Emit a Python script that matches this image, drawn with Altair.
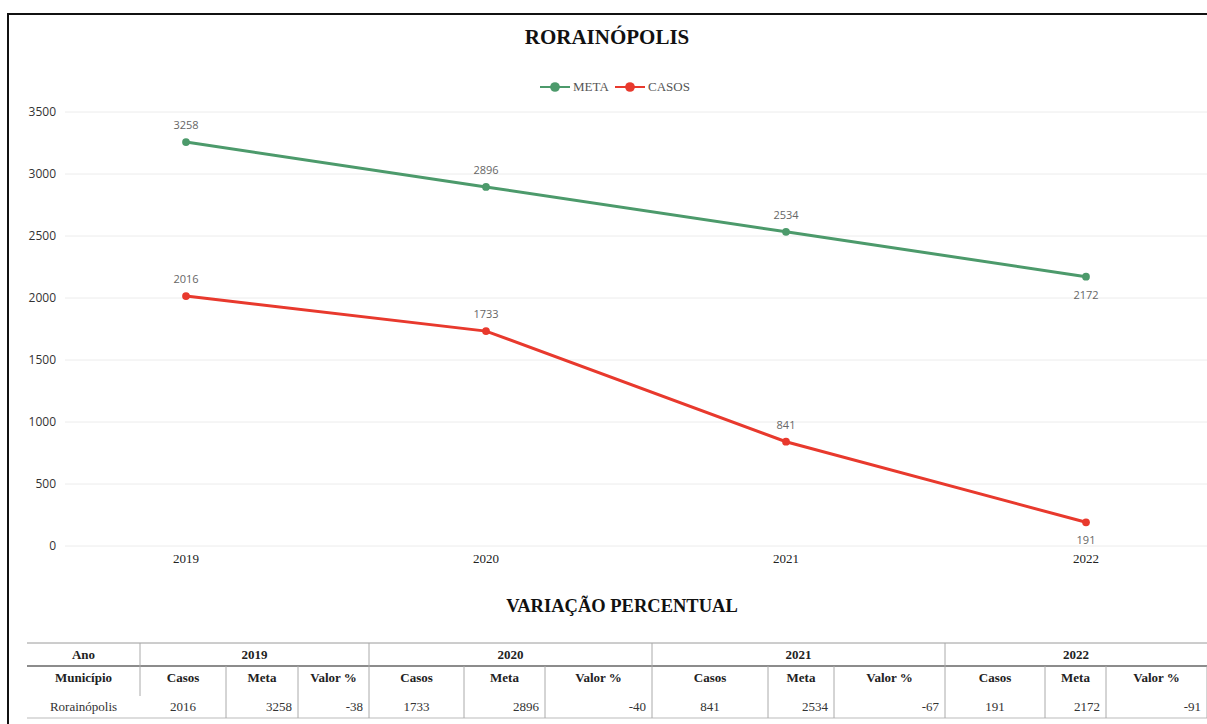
import altair as alt
import pandas as pd

# Casos x meta por ano no município
anos = [2019, 2020, 2021, 2022]
meta = [3258, 2896, 2534, 2172]
casos = [2016, 1733, 841, 191]
variacao_pct = [-38, -40, -67, -91]
municipio = "Rorainópolis"
series = ["META", "CASOS"]
cores = ["#4c9a6b", "#e8392d"]
subcabecalhos = ["Casos", "Meta", "Valor %"]
ticks_y = [0, 500, 1000, 1500, 2000, 2500, 3000, 3500]

# ---- layout (coordenadas de página) ----
OX, OY = 65, 112            # origem da área do gráfico
W, H = 1142, 608            # área do gráfico
Y_ZERO, Y_TOPO = 546, 112   # posições de 0 e do topo da escala
X_PRIMEIRO, PASSO = 186, 300

def px(x):
    return x - OX

def py(y):
    return y - OY

y_max = ticks_y[-1]
y_min = -y_max * (OY + H - Y_ZERO) / (Y_ZERO - Y_TOPO)
x_min = anos[0] - (X_PRIMEIRO - OX) / PASSO
x_max = anos[0] + (OX + W - X_PRIMEIRO) / PASSO

SERIF = "Liberation Serif"
SANS = "Open Sans"

# ---- dados do gráfico de linhas ----
linhas = pd.DataFrame(
    [{"ano": a, "serie": "META", "valor": v} for a, v in zip(anos, meta)]
    + [{"ano": a, "serie": "CASOS", "valor": v} for a, v in zip(anos, casos)]
)

xs = alt.Scale(domain=[x_min, x_max], nice=False, zero=False)
ys = alt.Scale(domain=[y_min, y_max], nice=False, zero=False)
cs = alt.Scale(domain=series, range=cores)

# grade e rótulos do eixo y
grade_df = pd.DataFrame({"v": ticks_y})
grade = alt.Chart(grade_df).mark_rule(stroke="#ececec", strokeWidth=1).encode(
    x=alt.value(0), x2=alt.value(W),
    y=alt.Y("v:Q", scale=ys, axis=None),
)
rot_y = alt.Chart(grade_df).mark_text(
    font=SANS, fontSize=12, color="#333333", align="right", baseline="middle", dx=-9
).encode(
    x=alt.value(0),
    y=alt.Y("v:Q", scale=ys, axis=None),
    text=alt.Text("v:Q", format="d"),
)

base = alt.Chart(linhas).encode(
    x=alt.X("ano:Q", scale=xs, axis=None),
    y=alt.Y("valor:Q", scale=ys, axis=None),
    color=alt.Color("serie:N", scale=cs, legend=None),
)

linha = base.mark_line(strokeWidth=3)
pontos = base.mark_circle(size=60, opacity=1)

rot_cima = (
    base.mark_text(font=SANS, fontSize=11, dy=-16, baseline="middle")
    .encode(text=alt.Text("valor:Q", format="d"), color=alt.value("#666666"))
    .transform_filter(alt.datum.ano < anos[-1])
)
rot_baixo = (
    base.mark_text(font=SANS, fontSize=11, dy=19, baseline="middle")
    .encode(text=alt.Text("valor:Q", format="d"), color=alt.value("#666666"))
    .transform_filter(alt.datum.ano == anos[-1])
)

# rótulos do eixo x (anos) logo abaixo da linha do zero
eixo_x = (
    alt.Chart(pd.DataFrame({"ano": anos}))
    .transform_calculate(zero="0")
    .mark_text(font=SERIF, fontSize=13, color="#222222", dy=13, baseline="middle")
    .encode(
        x=alt.X("ano:Q", scale=xs, axis=None),
        y=alt.Y("zero:Q", scale=ys, axis=None),
        text=alt.Text("ano:Q", format="d"),
    )
)

# ---- legenda ----
leg = pd.DataFrame(
    {
        "serie": series,
        "x0": [px(540 + 75 * i) for i in range(len(series))],
        "x1": [px(570 + 75 * i) for i in range(len(series))],
        "xc": [px(555 + 75 * i) for i in range(len(series))],
        "xt": [px(573 + 75 * i) for i in range(len(series))],
        "y": [py(87)] * len(series),
    }
)
leg_base = alt.Chart(leg).encode(color=alt.Color("serie:N", scale=cs, legend=None))
leg_linha = leg_base.mark_rule(strokeWidth=2).encode(
    x=alt.X("x0:Q", scale=None, axis=None),
    x2="x1",
    y=alt.Y("y:Q", scale=None, axis=None),
)
leg_ponto = leg_base.mark_circle(size=95, opacity=1).encode(
    x=alt.X("xc:Q", scale=None, axis=None),
    y=alt.Y("y:Q", scale=None, axis=None),
)
leg_texto = alt.Chart(leg).mark_text(
    font=SERIF, fontSize=13, color="#555555", align="left", baseline="middle"
).encode(
    x=alt.X("xt:Q", scale=None, axis=None),
    y=alt.Y("y:Q", scale=None, axis=None),
    text="serie:N",
)

# ---- títulos ----
titulos = pd.DataFrame(
    {
        "t": [municipio.upper(), "VARIAÇÃO PERCENTUAL"],
        "x": [px(607), px(622)],
        "y": [py(38), py(606)],
        "s": [21, 18.5],
    }
)
titulo = alt.Chart(titulos).mark_text(
    font=SERIF, fontWeight="bold", color="#111111", align="center", baseline="middle"
).encode(
    x=alt.X("x:Q", scale=None, axis=None),
    y=alt.Y("y:Q", scale=None, axis=None),
    size=alt.Size("s:Q", scale=None, legend=None),
    text="t:N",
)

# ---- moldura ----
moldura = alt.Chart(pd.DataFrame({"k": [0]})).mark_rect(
    fill=None, stroke="#111111", strokeWidth=2
).encode(
    x=alt.value(px(8)), x2=alt.value(W + 30), y=alt.value(py(14)), y2=alt.value(H + 30)
)

# ---- tabela ----
T_ESQ, T_DIR = 27, 1207
COL1 = (27, 140)
bordas = [[140, 226, 298, 369], [369, 464, 545, 652], [652, 768, 834, 945], [945, 1045, 1106, 1207]]
L_TOPO, L_MEIO, L_BASE = 643, 666, 718
Y_ANO, Y_SUB, Y_DADO = 655, 678, 707
PAD = 6

hl = pd.DataFrame(
    {
        "x": [px(T_ESQ)] * 3,
        "x2": [px(T_DIR)] * 3,
        "y": [py(L_TOPO), py(L_MEIO), py(L_BASE)],
        "c": ["#9a9a9a", "#8c8c8c", "#dddddd"],
        "w": [1, 2, 2],
    }
)
vl_rows = []
for g in bordas:
    vl_rows.append({"x": px(g[0]), "y": py(L_TOPO), "y2": py(L_MEIO)})
    for e in g[1:-1]:
        vl_rows.append({"x": px(e), "y": py(L_MEIO), "y2": py(L_BASE)})
    vl_rows.append({"x": px(g[-1]), "y": py(L_MEIO), "y2": py(L_BASE)})
vl_rows.append({"x": px(COL1[1]), "y": py(L_MEIO), "y2": py(696)})
vl = pd.DataFrame(vl_rows)

cab_rows = [
    {"t": "Ano", "x": px((COL1[0] + COL1[1]) / 2), "y": py(Y_ANO)},
    {"t": "Município", "x": px((COL1[0] + COL1[1]) / 2), "y": py(Y_SUB)},
]
centro_rows = [{"t": municipio, "x": px((COL1[0] + COL1[1]) / 2), "y": py(Y_DADO)}]
dir_rows = []
for i, g in enumerate(bordas):
    cab_rows.append({"t": str(anos[i]), "x": px((g[0] + g[-1]) / 2), "y": py(Y_ANO)})
    for j, s in enumerate(subcabecalhos):
        cab_rows.append({"t": s, "x": px((g[j] + g[j + 1]) / 2), "y": py(Y_SUB)})
    centro_rows.append({"t": str(casos[i]), "x": px((g[0] + g[1]) / 2), "y": py(Y_DADO)})
    dir_rows.append({"t": str(meta[i]), "x": px(g[2] - PAD), "y": py(Y_DADO)})
    dir_rows.append({"t": str(variacao_pct[i]), "x": px(g[3] - PAD), "y": py(Y_DADO)})

tab_hl = alt.Chart(hl).mark_rule().encode(
    x=alt.X("x:Q", scale=None, axis=None),
    x2="x2",
    y=alt.Y("y:Q", scale=None, axis=None),
    stroke=alt.Stroke("c:N", scale=None, legend=None),
    strokeWidth=alt.StrokeWidth("w:Q", scale=None, legend=None),
)
tab_vl = alt.Chart(vl).mark_rule(stroke="#aaaaaa", strokeWidth=1).encode(
    x=alt.X("x:Q", scale=None, axis=None),
    y=alt.Y("y:Q", scale=None, axis=None),
    y2="y2",
)

def texto(rows, **kw):
    return alt.Chart(pd.DataFrame(rows)).mark_text(
        font=SERIF, fontSize=13, baseline="middle", **kw
    ).encode(
        x=alt.X("x:Q", scale=None, axis=None),
        y=alt.Y("y:Q", scale=None, axis=None),
        text="t:N",
    )

tab_cab = texto(cab_rows, fontWeight="bold", color="#222222", align="center")
tab_centro = texto(centro_rows, color="#333333", align="center")
tab_dir = texto(dir_rows, color="#333333", align="right")

chart = (
    alt.layer(
        grade, rot_y, linha, pontos, rot_cima, rot_baixo, eixo_x,
        leg_linha, leg_ponto, leg_texto, titulo, moldura,
        tab_hl, tab_vl, tab_cab, tab_centro, tab_dir,
    )
    .properties(
        width=W,
        height=H,
        padding={"left": OX, "top": OY, "right": 0, "bottom": 724 - OY - H},
        autosize=alt.AutoSizeParams(type="none"),
        background="white",
    )
    .configure_view(stroke=None)
)

chart.save("out.html", embed_options={"renderer": "svg", "actions": False})
